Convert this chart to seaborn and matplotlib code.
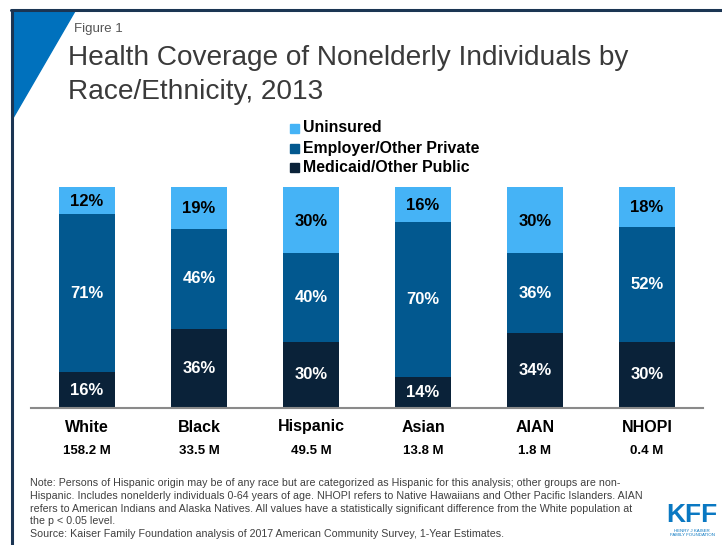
import matplotlib
matplotlib.use("Agg")
import matplotlib.pyplot as plt
import matplotlib.transforms as mtransforms
from matplotlib.patches import Polygon
from matplotlib.lines import Line2D
import seaborn as sns
import pandas as pd
import numpy as np

# ---- data ----
groups = ["White", "Black", "Hispanic", "Asian", "AIAN", "NHOPI"]
populations = ["158.2 M", "33.5 M", "49.5 M", "13.8 M", "1.8 M", "0.4 M"]
medicaid = [16, 36, 30, 14, 34, 30]
private = [71, 46, 40, 70, 36, 52]
uninsured = [12, 19, 30, 16, 30, 18]

series_names = ["Uninsured", "Employer/Other Private", "Medicaid/Other Public"]
colors = {"Uninsured": "#45B3F6", "Employer/Other Private": "#02588F",
          "Medicaid/Other Public": "#0A2239"}

sns.set_theme(style="white")
plt.rcParams["font.family"] = ["Liberation Sans", "DejaVu Sans"]

df = pd.DataFrame({"group": groups, "pop": populations, "med": medicaid,
                   "priv": private, "unins": uninsured})
tot = df["med"] + df["priv"] + df["unins"]
df["m_n"] = df["med"] / tot * 100
df["p_n"] = df["priv"] / tot * 100
df["u_n"] = df["unins"] / tot * 100
df["c1"] = df["m_n"]
df["c2"] = df["m_n"] + df["p_n"]
df["c3"] = df["c2"] + df["u_n"]

fig = plt.figure(figsize=(7.22, 5.45), dpi=100)
ax = fig.add_axes([31 / 722, 137 / 545, 672 / 722, 221 / 545])

# layered stacked bars
for col, name in [("c3", "Uninsured"), ("c2", "Employer/Other Private"),
                  ("c1", "Medicaid/Other Public")]:
    sns.barplot(data=df, x="group", y=col, order=groups, color=colors[name],
                width=0.5, saturation=1, ax=ax, linewidth=0, errorbar=None)

ax.set_xlim(-0.5, len(groups) - 0.5)
ax.set_ylim(0, 100)
ax.set_xlabel("")
ax.set_ylabel("")
ax.set_xticks([])
ax.set_yticks([])
for s in ["top", "right", "left"]:
    ax.spines[s].set_visible(False)
ax.spines["bottom"].set_color("#8A8A8A")
ax.spines["bottom"].set_linewidth(1.5)

# segment labels
for i, r in df.iterrows():
    ax.text(i, r["m_n"] / 2, f"{r['med']}%", ha="center", va="center",
            color="white", fontsize=12, fontweight="bold")
    ax.text(i, r["c1"] + r["p_n"] / 2, f"{r['priv']}%", ha="center",
            va="center", color="white", fontsize=12, fontweight="bold")
    ax.text(i, r["c2"] + r["u_n"] / 2 - 0.5, f"{r['unins']}%", ha="center",
            va="center", color="black", fontsize=12, fontweight="bold")

# category labels
trans = mtransforms.blended_transform_factory(ax.transData, fig.transFigure)
for i, (g, p) in enumerate(zip(groups, populations)):
    ax.text(i, 1 - 427 / 545, g, transform=trans, ha="center", va="center",
            fontsize=11.5, fontweight="bold", color="black")
    ax.text(i, 1 - 451 / 545, p, transform=trans, ha="center", va="center",
            fontsize=9.5, fontweight="bold", color="black")

# legend
leg_y = [128, 148, 167]
for y, name in zip(leg_y, series_names):
    fig.patches.append(plt.Rectangle((290 / 722, 1 - (y + 4.5) / 545),
                                     8.5 / 722, 8.5 / 545, color=colors[name],
                                     transform=fig.transFigure))
    fig.text(303 / 722, 1 - y / 545, name, ha="left", va="center",
             fontsize=11.4, fontweight="bold", color="black")

# frame and triangle
fig.add_artist(Line2D([12 / 722, 12 / 722], [0, 1 - 10 / 545],
                      color="#1B3553", lw=2.2, transform=fig.transFigure))
fig.add_artist(Line2D([11 / 722, 1], [1 - 10 / 545, 1 - 10 / 545],
                      color="#1B3553", lw=2.2, transform=fig.transFigure))
fig.add_artist(Polygon([[13 / 722, 1 - 11 / 545], [75 / 722, 1 - 11 / 545],
                        [13 / 722, 1 - 118 / 545]], closed=True,
                       color="#0071BD", transform=fig.transFigure))

# titles
fig.text(74 / 722, 1 - 29 / 545, "Figure 1", ha="left", va="center",
         fontsize=9.5, color="#555555")
fig.text(68 / 722, 1 - 58 / 545,
         "Health Coverage of Nonelderly Individuals by", ha="left",
         va="center", fontsize=20.2, color="#3A3A3A")
fig.text(68 / 722, 1 - 92 / 545, "Race/Ethnicity, 2013", ha="left",
         va="center", fontsize=20.2, color="#3A3A3A")

# note
note_lines = [
    "Note: Persons of Hispanic origin may be of any race but are categorized as Hispanic for this analysis; other groups are non-",
    "Hispanic. Includes nonelderly individuals 0-64 years of age. NHOPI refers to Native Hawaiians and Other Pacific Islanders. AIAN",
    "refers to American Indians and Alaska Natives. All values have a statistically significant difference from the White population at",
    "the p < 0.05 level.",
    "Source: Kaiser Family Foundation analysis of 2017 American Community Survey, 1-Year Estimates.",
]
for k, line in enumerate(note_lines):
    fig.text(30 / 722, 1 - (483 + k * 12.8) / 545, line, ha="left",
             va="center", fontsize=7.7, color="#404040")

# KFF logo
fig.text(692 / 722, 1 - 515 / 545, "KFF", ha="center", va="center",
         fontsize=19, fontweight="bold", color="#0A78C2")
fig.text(692 / 722, 1 - 533 / 545, "HENRY J KAISER\nFAMILY FOUNDATION",
         ha="center", va="center", fontsize=3.2, color="#0A78C2",
         linespacing=1.1)

fig.savefig("out.png", dpi=100, facecolor="white")
